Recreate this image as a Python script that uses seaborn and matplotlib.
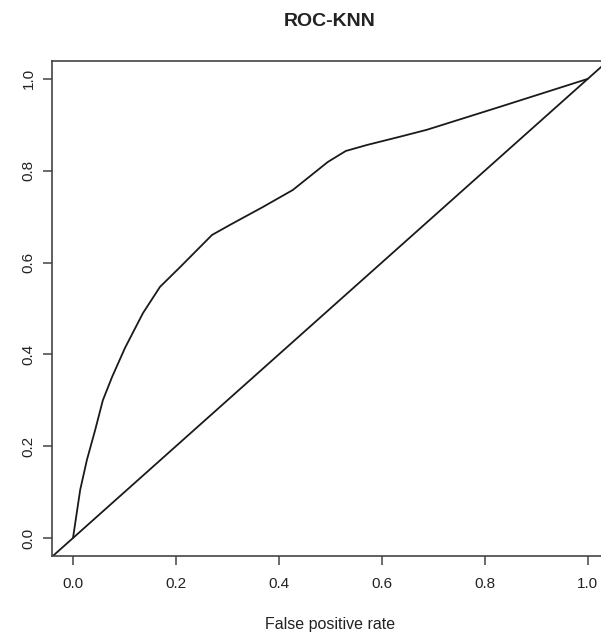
import numpy as np
import pandas as pd
import matplotlib
matplotlib.use("Agg")
import matplotlib.pyplot as plt
import seaborn as sns

# ROC points
fpr = [0.0, 0.014, 0.027, 0.043, 0.058, 0.076, 0.101, 0.136, 0.169, 0.208,
       0.27, 0.305, 0.369, 0.427, 0.495, 0.53, 0.571, 0.635, 0.687, 0.829, 1.0]
tpr = [0.0, 0.105, 0.17, 0.235, 0.30, 0.351, 0.414, 0.49, 0.547, 0.59,
       0.66, 0.682, 0.721, 0.758, 0.819, 0.843, 0.856, 0.874, 0.889, 0.939, 1.0]
ticks = [0.0, 0.2, 0.4, 0.6, 0.8, 1.0]
tick_labels = ["0.0", "0.2", "0.4", "0.6", "0.8", "1.0"]

sns.set_style("ticks")
plt.rcParams["font.family"] = ["Liberation Sans", "DejaVu Sans"]

df = pd.DataFrame({"fpr": fpr, "tpr": tpr})

fig = plt.figure(figsize=(6.01, 6.39), dpi=100)
# plot region runs past the right edge of the picture, as in the reference
ax = fig.add_axes([0.0872, 0.1293, 0.925, 0.776])

sns.lineplot(data=df, x="fpr", y="tpr", sort=False, estimator=None,
             color="#1a1a1a", linewidth=1.3, ax=ax)
ax.axline((0, 0), (1, 1), color="#1a1a1a", linewidth=1.3)

ax.set_xlim(-0.04, 1.04)
ax.set_ylim(-0.04, 1.04)
ax.set_xticks(ticks)
ax.set_xticklabels(tick_labels)
ax.set_yticks(ticks)
ax.set_yticklabels(tick_labels, rotation=90, va="center")

for s in ax.spines.values():
    s.set_color("#444444")
    s.set_linewidth(1.2)

ax.tick_params(axis="both", length=6.5, width=1.1, color="#444444",
               labelsize=11, labelcolor="#222222")
ax.tick_params(axis="x", pad=8)
ax.tick_params(axis="y", pad=5.5)

ax.set_xlabel("False positive rate", fontsize=11.5, color="#222222", labelpad=19)
ax.set_ylabel("")
fig.text(0.5493, 0.9664, "ROC-KNN", ha="center", va="center",
         fontsize=14, fontweight="bold", color="#222222")

fig.savefig("out.png", dpi=100)
